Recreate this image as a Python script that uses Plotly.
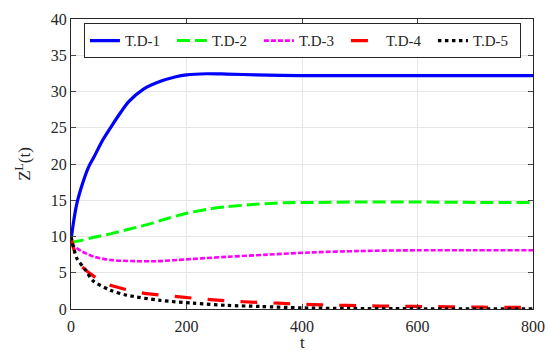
import plotly.graph_objects as go

t1 = [0, 5, 10, 20, 30, 40, 55, 70, 85, 100, 125, 155, 180, 200, 235, 270, 320, 400, 500, 600, 700, 800]
z1 = [9.5, 12.3, 14.5, 17.3, 19.5, 21.0, 23.3, 25.2, 27.0, 28.6, 30.3, 31.4, 32.0, 32.3, 32.45, 32.4, 32.3, 32.2, 32.2, 32.2, 32.2, 32.2]

t2 = [0, 20, 40, 70, 100, 130, 155, 200, 240, 270, 320, 370, 420, 500, 600, 700, 800]
z2 = [9.2, 9.5, 9.9, 10.4, 11.0, 11.6, 12.2, 13.2, 13.8, 14.1, 14.45, 14.65, 14.7, 14.75, 14.75, 14.7, 14.7]

t3 = [0, 5, 10, 20, 40, 70, 110, 150, 200, 270, 340, 415, 500, 600, 700, 800]
z3 = [9.0, 8.7, 8.4, 7.9, 7.2, 6.75, 6.6, 6.6, 6.85, 7.2, 7.5, 7.8, 8.0, 8.1, 8.1, 8.1]

t4 = [0, 5, 14, 25, 38, 57, 90, 125, 184, 241, 299, 359, 418, 477, 534, 595, 655, 713, 770, 800]
z4 = [10.0, 8.2, 6.3, 5.4, 4.6, 3.6, 2.8, 2.2, 1.7, 1.3, 1.0, 0.8, 0.6, 0.5, 0.4, 0.35, 0.3, 0.25, 0.22, 0.2]

t5 = [0, 5, 10, 25, 38, 68, 97, 154, 211, 270, 328, 400, 480, 560, 650, 800]
z5 = [10.0, 8.3, 7.0, 5.4, 3.9, 2.6, 1.9, 1.2, 0.8, 0.5, 0.35, 0.15, 0.08, 0.05, 0.03, 0.02]

names = ["T.D-1", "T.D-2", "T.D-3", "T.D-4", "T.D-5"]
colors = ["#0000ff", "#00ff00", "#ff00ff", "#ff0000", "#000000"]
dashes = ["solid", "13px,5px", "5px,2px", "17px,16px", "3.5px,3.5px"]
widths = [3.2, 3, 2.6, 3.2, 3.2]

xticks = [0, 200, 400, 600, 800]
yticks = [0, 5, 10, 15, 20, 25, 30, 35, 40]
x_title = "t"
y_title = "Z<sup>L</sup>(t)"

fig = go.Figure()
for t, z, n, c, d, w in zip([t1, t2, t3, t4, t5], [z1, z2, z3, z4, z5], names, colors, dashes, widths):
    fig.add_trace(go.Scatter(x=t, y=z, name=n, mode="lines",
                             line=dict(color=c, dash=d, width=w, shape="spline", smoothing=0.8)))

FAM = "Liberation Serif"
fig.update_layout(
    width=548, height=351,
    margin=dict(l=71, r=15, t=19, b=42),
    plot_bgcolor="white", paper_bgcolor="white",
    font=dict(size=15, family=FAM, color="#262626"),
    showlegend=True,
    legend=dict(orientation="h", x=0.028, y=0.985, xanchor="left", yanchor="top",
                bordercolor="#262626", borderwidth=1, bgcolor="white",
                font=dict(size=15, family=FAM, color="#262626"),
                entrywidth=42, tracegroupgap=0, itemwidth=30),
)
fig.add_annotation(x=0.5, y=-0.117, xref="paper", yref="paper", xanchor="center", yanchor="middle",
                   showarrow=False, text=x_title, font=dict(size=17, family=FAM, color="#262626"))
fig.update_xaxes(range=[0, 800], tickvals=xticks, ticks="inside", ticklen=5, mirror="ticks",
                 showline=True, linecolor="#262626", linewidth=1, showgrid=True, gridcolor="#e6e6e6",
                 zeroline=False, ticklabelstandoff=3, automargin=False,
                 tickfont=dict(size=16, family=FAM))
fig.update_yaxes(range=[0, 40], tickvals=yticks, ticks="inside", ticklen=5, mirror="ticks",
                 showline=True, linecolor="#262626", linewidth=1, showgrid=True, gridcolor="#e6e6e6",
                 zeroline=False, automargin=False,
                 title=dict(text=y_title, font=dict(size=17, family=FAM)),
                 tickfont=dict(size=16, family=FAM))

fig.write_html("out.html")
